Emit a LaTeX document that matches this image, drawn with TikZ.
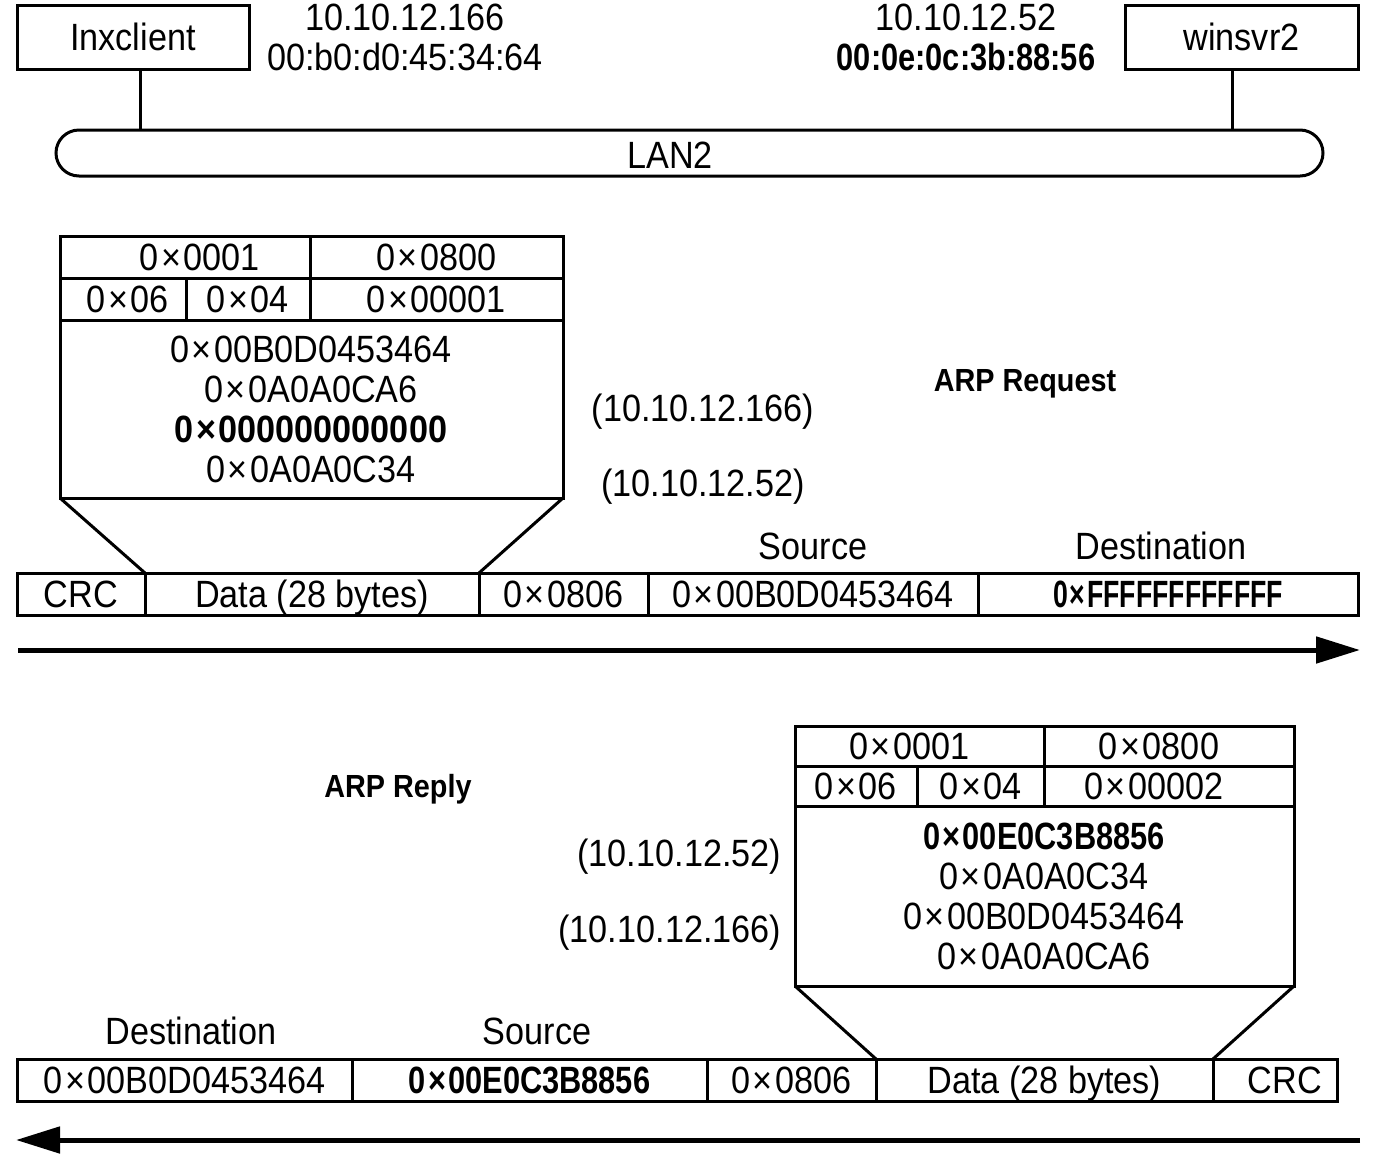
\documentclass[tikz,border=0pt]{standalone}
\usepackage{fontspec}
\usepackage{graphicx}
\setmainfont[FakeStretch=0.9]{Liberation Sans}
\usetikzlibrary{arrows.meta}
\newcommand\X{\kern2.5pt×\kern2.5pt}
\tikzset{
  base/.style={inner sep=0pt, outer sep=0pt, font=\fontsize{38}{40}\selectfont, text height=27pt, text depth=0pt},
  txt/.style={base},
  boldtxt/.style={base, font=\fontsize{38}{40}\selectfont\bfseries},
  hdr/.style={base, font=\fontsize{32}{34}\selectfont\bfseries, text height=23pt},
  cell/.style={base, draw, line width=3pt},
  wire/.style={line width=3pt},
  flow/.style={line width=5pt, -{Triangle[length=44pt,width=26pt]}},
}
\newcommand\cellbox[6][]{\node[cell,#1, minimum width={#4-#2}, minimum height={#5-#3}] (#6) at ({(#2+#4)/2},{(#3+#5)/2})}
\begin{document}
\begin{tikzpicture}[x=1pt,y=-1pt]
\useasboundingbox (0,0) rectangle (1376,1160);
% top network
\cellbox{17}{5}{249}{69}{lnx} {Inxclient};
\cellbox{1125}{5}{1358}{69}{win} {winsvr2};
\node[cell, rounded corners=23pt, minimum width=1267, minimum height=46] (lan) at (689.5,153) {};
\node[txt] (lanlbl) at (670,155) {LAN2};
\node[txt] (ip1) at (405,17) {10.10.12.166};
\node[txt] (mac1) at (405,57) {00:b0:d0:45:34:64};
\node[txt] (ip2) at (966,17) {10.10.12.52};
\node[boldtxt] (mac2) at (966,57) {\scalebox{0.9}[1]{00:0e:0c:3b:88:56}};
\draw[wire] ([xshift=7pt]lnx.south) -- ([xshift=7pt]lnx.south |- lan.north);
\draw[wire] ([xshift=-9.5pt]win.south) -- ([xshift=-9.5pt]win.south |- lan.north);

% ARP request packet
\cellbox{60}{236}{310}{278}{q11} {\hspace*{30pt}0\X0001};
\cellbox{310}{236}{563}{278}{q12} {0\X0800};
\cellbox{60}{278}{186}{320}{q21} {\hspace*{10pt}0\X06};
\cellbox{186}{278}{310}{320}{q22} {0\X04};
\cellbox{310}{278}{563}{320}{q23} {0\X00001};
\cellbox{60}{320}{563}{498}{qbody} {};
\node[txt] (qb1) at (311,349) {0\X00B0D0453464};
\node[txt] (qb2) at (311,389) {0\X0A0A0CA6};
\node[boldtxt] (qb3) at (311,429) {0\X000000000000};
\node[txt] (qb4) at (311,469) {0\X0A0A0C34};
\node[txt] (qip1) at (703,408) {(10.10.12.166)};
\node[txt] (qip2) at (703,483) {(10.10.12.52)};
\node[hdr] (qhdr) at (1025,380) {ARP Request};

\cellbox{17}{573}{145}{615}{fcrc} {CRC};
\cellbox{145}{573}{479}{615}{fdata} {Data (28 bytes)};
\cellbox{479}{573}{648}{615}{ftype} {0\X0806};
\cellbox{648}{573}{978}{615}{fsrc} {0\X00B0D0453464};
\cellbox[font=\fontsize{38}{40}\selectfont\bfseries]{978}{573}{1358}{615}{fdst} {\scalebox{0.78}[1]{0\X FFFFFFFFFFFF}};
\node[txt] (fsrcl) at (813,546) {Source};
\node[txt] (fdstl) at (1161,546) {Destination};
\draw[wire] (qbody.south west) -- (fdata.north west);
\draw[wire] (qbody.south east) -- (fdata.north east);
\coordinate (a1s) at (18,650);
\coordinate (a1e) at (1360,650);
\draw[flow] (a1s) -- (a1e);

% ARP reply packet
\cellbox{795}{726}{1044}{766}{p11} {0\X0001\hspace*{20pt}};
\cellbox{1044}{726}{1294}{766}{p12} {0\X0800\hspace*{20pt}};
\cellbox{795}{766}{917}{806}{p21} {0\X06};
\cellbox{917}{766}{1044}{806}{p22} {0\X04};
\cellbox{1044}{766}{1294}{806}{p23} {0\X00002\hspace*{30pt}};
\cellbox{795}{806}{1294}{986}{pbody} {};
\node[boldtxt] (pb1) at (1044,836) {\scalebox{0.9}[1]{0\X00E0C3B8856}};
\node[txt] (pb2) at (1044,876) {0\X0A0A0C34};
\node[txt] (pb3) at (1044,916) {0\X00B0D0453464};
\node[txt] (pb4) at (1044,956) {0\X0A0A0CA6};
\node[txt, anchor=east] (pip1) at (781,853) {(10.10.12.52)};
\node[txt, anchor=east] (pip2) at (781,929) {(10.10.12.166)};
\node[hdr] (phdr) at (398,786) {ARP Reply};

\cellbox{17}{1059}{352}{1101}{rdst} {0\X00B0D0453464};
\cellbox[font=\fontsize{38}{40}\selectfont\bfseries]{352}{1059}{707}{1101}{rsrc} {\scalebox{0.9}[1]{0\X00E0C3B8856}};
\cellbox{707}{1059}{876}{1101}{rtype} {0\X0806};
\cellbox{876}{1059}{1213}{1101}{rdata} {Data (28 bytes)};
\cellbox{1213}{1059}{1337}{1101}{rcrc} {\hspace*{20pt}CRC};
\node[txt] (rdstl) at (191,1031) {Destination};
\node[txt] (rsrcl) at (537,1031) {Source};
\draw[wire] (pbody.south west) -- (rdata.north west);
\draw[wire] (pbody.south east) -- (rdata.north east);
\coordinate (a2s) at (1360,1140);
\coordinate (a2e) at (16,1140);
\draw[flow] (a2s) -- (a2e);
\end{tikzpicture}
\end{document}
